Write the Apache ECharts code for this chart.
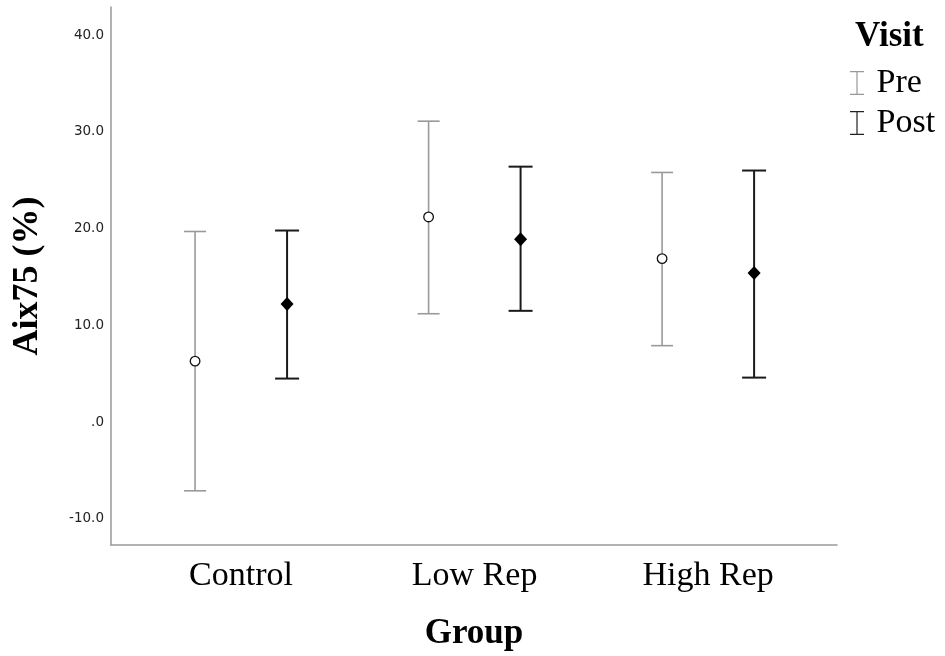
<!DOCTYPE html>
<html><head><meta charset="utf-8">
<script src="https://cdn.jsdelivr.net/npm/echarts@6/dist/echarts.min.js"></script>
<style>html,body{margin:0;padding:0;background:#fff}#c{width:945px;height:656px}</style>
</head><body><div id="c"></div>
<script>
const categories = ['Control', 'Low Rep', 'High Rep'];
const preMean = [6.3, 21.2, 16.9];
const preLow = [-7.1, 11.2, 7.9];
const preHigh = [19.7, 31.1, 25.8];
const postMean = [12.2, 18.9, 15.4];
const postLow = [4.5, 11.5, 4.6];
const postHigh = [19.8, 26.4, 26.0];
const yTicks = [-10, 0, 10, 20, 30, 40];

const SERIF = '"Liberation Serif", "Times New Roman", serif';

function rows(lo, hi, mean) {
  return categories.map((c, i) => [i, lo[i], hi[i], mean[i]]);
}

function makeRender(offset, color, lw, capHalf, marker) {
  return function (params, api) {
    const i = api.value(0);
    const lo = api.coord([i, api.value(1)]);
    const hi = api.coord([i, api.value(2)]);
    const m = api.coord([i, api.value(3)]);
    const x = lo[0] + offset;
    const ls = { stroke: color, lineWidth: lw };
    const children = [
      { type: 'line', shape: { x1: x, y1: hi[1], x2: x, y2: lo[1] }, style: ls },
      { type: 'line', shape: { x1: x - capHalf, y1: hi[1], x2: x + capHalf, y2: hi[1] }, style: ls },
      { type: 'line', shape: { x1: x - capHalf, y1: lo[1], x2: x + capHalf, y2: lo[1] }, style: ls }
    ];
    if (marker === 'circle') {
      children.push({ type: 'circle', shape: { cx: x, cy: m[1], r: 4.8 }, style: { fill: '#fff', stroke: '#111', lineWidth: 1.3 } });
    } else {
      children.push({ type: 'polygon', shape: { points: [[x, m[1] - 7], [x + 6.5, m[1]], [x, m[1] + 7], [x - 6.5, m[1]]] }, style: { fill: '#000' } });
    }
    return { type: 'group', children };
  };
}

const iconPath = 'path://M0,0 H14 V1.3 H7.6 V22.7 H14 V24 H0 V22.7 H6.4 V1.3 H0 Z';

const chart = echarts.init(document.getElementById('c'), null, { renderer: 'canvas' });
chart.setOption({
  animation: false,
  backgroundColor: '#fff',
  title: {
    text: 'Visit', left: 850, top: 14,
    textStyle: { fontFamily: SERIF, fontWeight: 'bold', fontSize: 35, color: '#000' }
  },
  legend: {
    orient: 'vertical', left: 845, top: 61, itemGap: 6,
    itemWidth: 15, itemHeight: 24,
    textStyle: { fontFamily: SERIF, fontSize: 34, color: '#000', padding: [0, 0, 0, 7] },
    data: [
      { name: 'Pre', icon: iconPath, itemStyle: { color: '#999' } },
      { name: 'Post', icon: iconPath, itemStyle: { color: '#222' } }
    ]
  },
  grid: { left: 111, right: 108, top: 7, bottom: 111 },
  xAxis: {
    type: 'value', min: -0.557, max: 2.552,
    splitLine: { show: false },
    axisLine: { show: true, onZero: false, lineStyle: { color: '#999', width: 1.5 } },
    axisTick: { show: false },
    axisLabel: {
      customValues: [0, 1, 2],
      formatter: v => categories[Math.round(v)],
      fontFamily: SERIF, fontSize: 34, color: '#000', margin: 14
    },
    name: 'Group', nameLocation: 'middle', nameGap: 71,
    nameTextStyle: { fontFamily: SERIF, fontWeight: 'bold', fontSize: 35, color: '#000' }
  },
  yAxis: {
    type: 'value', min: -12.7, max: 42.9,
    splitLine: { show: false },
    axisLine: { show: true, onZero: false, lineStyle: { color: '#999', width: 1.5 } },
    axisTick: { show: false },
    axisLabel: {
      customValues: yTicks,
      formatter: v => (v === 0 ? '.0' : v.toFixed(1)),
      fontFamily: '"DejaVu Sans", sans-serif', fontSize: 13.5, color: '#222', margin: 7
    },
    name: 'Aix75 (%)', nameLocation: 'middle', nameGap: 65,
    nameTextStyle: { fontFamily: SERIF, fontWeight: 'bold', fontSize: 36, color: '#000' }
  },
  series: [
    {
      name: 'Pre', type: 'custom', itemStyle: { color: '#999' },
      renderItem: makeRender(-46, '#9a9a9a', 1.6, 11, 'circle'),
      encode: { x: 0, y: [1, 2, 3] },
      data: rows(preLow, preHigh, preMean), z: 3
    },
    {
      name: 'Post', type: 'custom', itemStyle: { color: '#222' },
      renderItem: makeRender(46, '#1a1a1a', 2, 12, 'diamond'),
      encode: { x: 0, y: [1, 2, 3] },
      data: rows(postLow, postHigh, postMean), z: 3
    }
  ]
});
</script></body></html>
